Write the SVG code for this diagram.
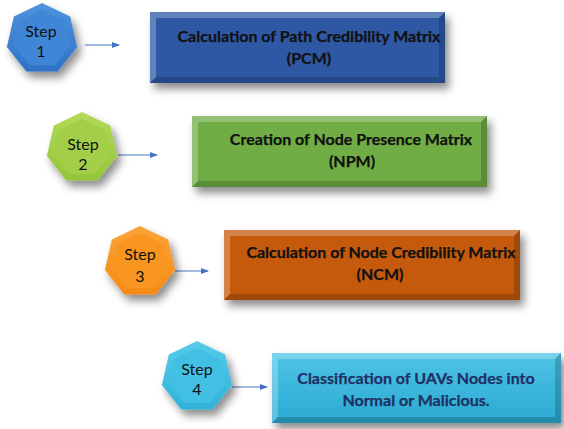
<svg xmlns="http://www.w3.org/2000/svg" width="564" height="429" viewBox="0 0 564 429">
<defs>
<style>
.step{font-family:Lato,"Liberation Sans",sans-serif;font-size:16px;fill:#111;text-anchor:middle}
.lbl{font-family:Lato,"Liberation Sans",sans-serif;font-weight:bold;font-size:16px;fill:#111;text-anchor:middle;stroke:#111;stroke-width:0.25px}
.lbl4{fill:#1f3064;stroke:#1f3064}
.conn{stroke:#4472c4;stroke-width:1;fill:none;marker-end:url(#ah)}
.hl{fill:#fff;opacity:0.25}
.dk{fill:#000;opacity:0.18}
</style>
<filter id="sh" x="-20%" y="-20%" width="150%" height="160%">
<feDropShadow dx="4" dy="6" stdDeviation="4" flood-color="#000" flood-opacity="0.45"/>
</filter>
<marker id="ah" markerWidth="8" markerHeight="6" refX="7" refY="3" orient="auto" markerUnits="userSpaceOnUse">
<path d="M0,0 L8,3 L0,6 Z" fill="#4472c4"/>
</marker>
<polygon id="hep" points="0,-36 28.15,-22.45 35.1,8.01 15.62,32.44 -15.62,32.44 -35.1,8.01 -28.15,-22.45"/>
<polygon id="hepi" points="0,-29 22.7,-18.1 28.3,6.45 12.6,26.1 -12.6,26.1 -28.3,6.45 -22.7,-18.1"/>
<linearGradient id="g1" x1="0" y1="0" x2="0" y2="1"><stop offset="0" stop-color="#4f93de"/><stop offset="1" stop-color="#2f72c6"/></linearGradient>
<linearGradient id="g2" x1="0" y1="0" x2="0" y2="1"><stop offset="0" stop-color="#b4da58"/><stop offset="1" stop-color="#92c53a"/></linearGradient>
<linearGradient id="g3" x1="0" y1="0" x2="0" y2="1"><stop offset="0" stop-color="#fba43a"/><stop offset="1" stop-color="#f58a14"/></linearGradient>
<linearGradient id="g4" x1="0" y1="0" x2="0" y2="1"><stop offset="0" stop-color="#56cbea"/><stop offset="1" stop-color="#2fb2da"/></linearGradient>
<linearGradient id="b4" x1="0" y1="0" x2="0" y2="1"><stop offset="0" stop-color="#4fc4e6"/><stop offset="1" stop-color="#2aa9d2"/></linearGradient>
</defs>

<g id="connectors">
<line class="conn" x1="85" y1="45" x2="119" y2="45"/>
<line class="conn" x1="118" y1="155" x2="157" y2="155"/>
<line class="conn" x1="175" y1="271" x2="208" y2="271"/>
<line class="conn" x1="232" y1="387" x2="267" y2="387"/>
</g>

<g id="step1">
<use href="#hep" transform="translate(42,39)" fill="url(#g1)" filter="url(#sh)"/>
<use href="#hepi" transform="translate(42,39)" fill="#3f86d6"/>
<text class="step" x="41" y="37">Step</text>
<text class="step" x="41" y="57">1</text>
</g>
<g id="box1">
<rect x="150" y="12" width="295" height="71" fill="#2e58a4" filter="url(#sh)"/>
<polygon class="hl" points="150,12 445,12 439,18 156,18"/>
<polygon class="hl" points="150,12 156,18 156,77 150,83" opacity="0.15"/>
<polygon class="dk" points="445,12 445,83 439,77 439,18"/>
<polygon class="dk" points="150,83 445,83 439,77 156,77"/>
<text class="lbl" x="309" y="42">Calculation of Path Credibility Matrix</text>
<text class="lbl" x="309" y="64">(PCM)</text>
</g>

<g id="step2">
<use href="#hep" transform="translate(82,148)" fill="url(#g2)" filter="url(#sh)"/>
<use href="#hepi" transform="translate(82,148)" fill="#a3cf48"/>
<text class="step" x="83" y="150">Step</text>
<text class="step" x="83" y="170">2</text>
</g>
<g id="box2">
<rect x="192" y="116" width="295" height="71" fill="#6fad45" filter="url(#sh)"/>
<polygon class="hl" points="192,116 487,116 481,122 198,122"/>
<polygon class="hl" points="192,116 198,122 198,181 192,187" opacity="0.15"/>
<polygon class="dk" points="487,116 487,187 481,181 481,122"/>
<polygon class="dk" points="192,187 487,187 481,181 198,181"/>
<text class="lbl" x="351" y="145">Creation of Node Presence Matrix</text>
<text class="lbl" x="352" y="167">(NPM)</text>
</g>

<g id="step3">
<use href="#hep" transform="translate(140,262)" fill="url(#g3)" filter="url(#sh)"/>
<use href="#hepi" transform="translate(140,262)" fill="#f8961f"/>
<text class="step" x="140" y="260">Step</text>
<text class="step" x="140" y="282">3</text>
</g>
<g id="box3">
<rect x="224" y="230" width="296" height="70" fill="#c55a11" filter="url(#sh)"/>
<polygon class="hl" points="224,230 520,230 514,236 230,236"/>
<polygon class="hl" points="224,230 230,236 230,294 224,300" opacity="0.15"/>
<polygon class="dk" points="520,230 520,300 514,294 514,236"/>
<polygon class="dk" points="224,300 520,300 514,294 230,294"/>
<text class="lbl" x="381" y="258">Calculation of Node Credibility Matrix</text>
<text class="lbl" x="380" y="280">(NCM)</text>
</g>

<g id="step4">
<use href="#hep" transform="translate(197,377)" fill="url(#g4)" filter="url(#sh)"/>
<use href="#hepi" transform="translate(197,377)" fill="#42c0e3"/>
<text class="step" x="197" y="375">Step</text>
<text class="step" x="197" y="395">4</text>
</g>
<g id="box4">
<rect x="272" y="353" width="289" height="70" fill="url(#b4)" filter="url(#sh)"/>
<polygon class="hl" points="272,353 561,353 555,359 278,359"/>
<polygon class="hl" points="272,353 278,359 278,417 272,423" opacity="0.15"/>
<polygon class="dk" points="561,353 561,423 555,417 555,359"/>
<polygon class="dk" points="272,423 561,423 555,417 278,417"/>
<text class="lbl lbl4" x="416" y="384">Classification of UAVs Nodes into</text>
<text class="lbl lbl4" x="416" y="406">Normal or Malicious.</text>
</g>
</svg>
